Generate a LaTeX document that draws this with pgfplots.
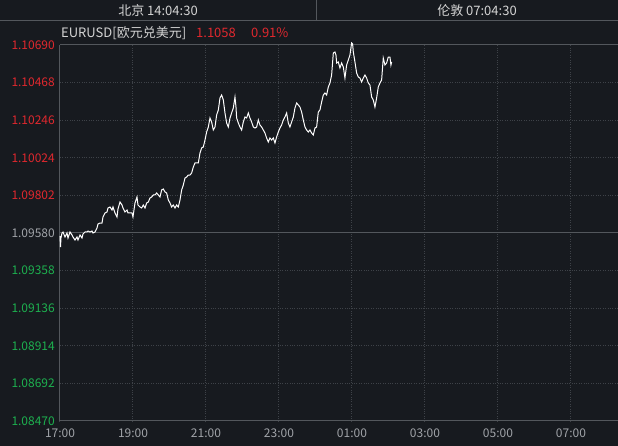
\documentclass[border=0pt]{standalone}
\usepackage{fontspec}
\setmainfont{Noto Sans CJK SC}
\usepackage{pgfplots}
\pgfplotsset{compat=1.18}
\definecolor{bg}{HTML}{171A1F}
\definecolor{gridc}{HTML}{3E4248}
\definecolor{axc}{HTML}{53575C}
\definecolor{upred}{HTML}{E0282E}
\definecolor{dngreen}{HTML}{1DB04F}
\definecolor{lbl}{HTML}{A0A3A8}
\definecolor{hdr}{HTML}{D4D4D4}
\begin{document}
\begin{tikzpicture}
\fill[bg] (-60bp,-25bp) rectangle (558bp,421bp);
\draw[axc,line width=1bp] (-60bp,400bp) -- (558bp,400bp);
\draw[axc,line width=1bp] (256bp,400bp) -- (256bp,421bp);
\node[hdr,font=\fontsize{13bp}{15bp}\selectfont] at (98bp,410bp) {北京 14:04:30};
\node[hdr,font=\fontsize{13bp}{15bp}\selectfont] at (417bp,410bp) {伦敦 07:04:30};
\node[anchor=west,inner sep=0pt,hdr,font=\fontsize{13bp}{15bp}\selectfont] at (1bp,388bp) {EURUSD[欧元兑美元]};
\node[anchor=west,inner sep=0pt,upred,font=\fontsize{13bp}{15bp}\selectfont] at (136bp,388bp) {1.1058};
\node[anchor=west,inner sep=0pt,upred,font=\fontsize{13bp}{15bp}\selectfont] at (191bp,388bp) {0.91\%};
\begin{axis}[
  scale only axis, width=558bp, height=376bp,
  xmin=0, xmax=15.29, ymin=1.08470, ymax=1.10690,
  clip=false,
  axis line style={draw=none},
  major tick length=0pt,
  xtick={0,2,4,6,8,10,12,14},
  xticklabels={17:00,19:00,21:00,23:00,01:00,03:00,05:00,07:00},
  ytick={1.08470,1.08692,1.08914,1.09136,1.09358,1.09580,1.09802,1.10024,1.10246,1.10468,1.10690},
  yticklabels={\textcolor{dngreen}{1.08470},\textcolor{dngreen}{1.08692},\textcolor{dngreen}{1.08914},\textcolor{dngreen}{1.09136},\textcolor{dngreen}{1.09358},\textcolor{lbl}{1.09580},\textcolor{upred}{1.09802},\textcolor{upred}{1.10024},\textcolor{upred}{1.10246},\textcolor{upred}{1.10468},\textcolor{upred}{1.10690}},
  yticklabel style={font=\fontsize{12bp}{14bp}\selectfont, inner sep=0pt, anchor=east, xshift=-5bp},
  xticklabel style={font=\fontsize{12bp}{14bp}\selectfont, lbl, inner sep=0pt, anchor=north, yshift=-8bp},
  grid=major,
  major grid style={gridc, dotted, line width=1bp},
]
\draw[axc,line width=1bp] (axis cs:0,1.09580) -- (axis cs:15.29,1.09580);
\draw[axc,line width=1bp] (axis cs:0,1.10690) -- (axis cs:15.29,1.10690);
\draw[axc,line width=1bp] (axis cs:0,1.08470) -- (axis cs:15.29,1.08470);
\draw[axc,line width=1bp] (axis cs:0,1.08470) -- (axis cs:0,1.10690);
\addplot[white, line width=1bp, mark=none] coordinates {
(0,1.095623) (0.014,1.094973) (0.027,1.095505) (0.055,1.095800) (0.082,1.095859)
(0.137,1.095564) (0.192,1.095800) (0.219,1.095505) (0.274,1.095859) (0.329,1.095682)
(0.356,1.095564) (0.411,1.095387) (0.466,1.095564) (0.493,1.095387) (0.548,1.095682)
(0.603,1.095505) (0.630,1.095741) (0.685,1.095859) (0.740,1.095859) (0.767,1.095918)
(0.822,1.095859) (0.877,1.095918) (0.904,1.095800) (0.959,1.095859) (1.014,1.096095)
(1.041,1.096331) (1.096,1.096390) (1.151,1.096390) (1.178,1.096745) (1.233,1.096981)
(1.288,1.097040) (1.315,1.097276) (1.370,1.097335) (1.425,1.097158) (1.452,1.097335)
(1.507,1.096981) (1.562,1.096745) (1.589,1.097217) (1.644,1.097630) (1.699,1.097453)
(1.726,1.097276) (1.781,1.097040) (1.836,1.097158) (1.863,1.096981) (1.918,1.096981)
(1.973,1.096981) (2.000,1.096745) (2.055,1.097571) (2.110,1.097925) (2.137,1.097453)
(2.192,1.097335) (2.237,1.097276) (2.283,1.097453) (2.329,1.097276) (2.374,1.097571)
(2.420,1.097630) (2.466,1.097866) (2.511,1.097925) (2.557,1.098044) (2.603,1.098044)
(2.648,1.098162) (2.694,1.098044) (2.740,1.097925) (2.785,1.098339) (2.831,1.098398)
(2.877,1.098221) (2.922,1.098162) (2.968,1.097748) (3.014,1.097571) (3.059,1.097335)
(3.105,1.097453) (3.151,1.097276) (3.196,1.097453) (3.242,1.097335) (3.288,1.097748)
(3.333,1.098339) (3.379,1.098634) (3.425,1.099047) (3.470,1.099106) (3.516,1.099224)
(3.562,1.099224) (3.607,1.099342) (3.653,1.099697) (3.699,1.099933) (3.744,1.099933)
(3.790,1.099933) (3.836,1.100523) (3.881,1.100819) (3.927,1.100878) (3.973,1.101291)
(4.018,1.101763) (4.064,1.102058) (4.110,1.102590) (4.155,1.102354) (4.201,1.101881)
(4.247,1.102058) (4.292,1.102767) (4.338,1.103062) (4.384,1.103771) (4.429,1.103948)
(4.475,1.103653) (4.521,1.102885) (4.566,1.102295) (4.612,1.102058) (4.658,1.102590)
(4.703,1.102885) (4.749,1.103180) (4.795,1.103830) (4.822,1.103239) (4.840,1.102590)
(4.886,1.102295) (4.932,1.102058) (4.977,1.101881) (5.023,1.102354) (5.068,1.102649)
(5.114,1.102590) (5.160,1.102885) (5.205,1.102590) (5.251,1.102354) (5.297,1.102058)
(5.342,1.101999) (5.388,1.102058) (5.434,1.102472) (5.479,1.102177) (5.525,1.102058)
(5.571,1.101881) (5.616,1.101704) (5.662,1.101409) (5.708,1.101173) (5.753,1.101409)
(5.799,1.101291) (5.845,1.101409) (5.890,1.101114) (5.936,1.101468) (5.982,1.101763)
(6.027,1.101999) (6.073,1.102177) (6.119,1.102472) (6.164,1.102649) (6.210,1.102885)
(6.256,1.102295) (6.301,1.102058) (6.347,1.102354) (6.393,1.102649) (6.438,1.103180)
(6.484,1.103476) (6.530,1.103357) (6.575,1.103239) (6.621,1.102944) (6.667,1.102472)
(6.712,1.102058) (6.758,1.101881) (6.804,1.101763) (6.849,1.101881) (6.895,1.101704)
(6.941,1.101586) (6.986,1.101999) (7.032,1.102058) (7.078,1.102944) (7.123,1.103062)
(7.169,1.103535) (7.215,1.103948) (7.260,1.104066) (7.306,1.103948) (7.352,1.104420)
(7.397,1.104656) (7.443,1.105129) (7.489,1.106428) (7.534,1.106487) (7.562,1.106310)
(7.580,1.105837) (7.626,1.105896) (7.671,1.105542) (7.717,1.105837) (7.763,1.105601)
(7.808,1.104952) (7.854,1.105719) (7.900,1.106014) (7.945,1.106310) (7.991,1.107018)
(8.018,1.106960) (8.037,1.106487) (8.082,1.105896) (8.128,1.105247) (8.174,1.105011)
(8.219,1.104952) (8.265,1.104715) (8.311,1.104952) (8.356,1.105129) (8.402,1.104952)
(8.448,1.104656) (8.493,1.104538) (8.539,1.103830) (8.584,1.103653) (8.630,1.103239)
(8.676,1.103771) (8.721,1.104420) (8.767,1.104656) (8.813,1.104833) (8.858,1.106132)
(8.904,1.105719) (8.950,1.105837) (8.995,1.106191) (9.041,1.106191) (9.068,1.105719)
(9.087,1.105896)
};
\end{axis}
\pgfresetboundingbox
\path[use as bounding box] (-60bp,-25bp) rectangle (558bp,421bp);
\end{tikzpicture}
\end{document}
